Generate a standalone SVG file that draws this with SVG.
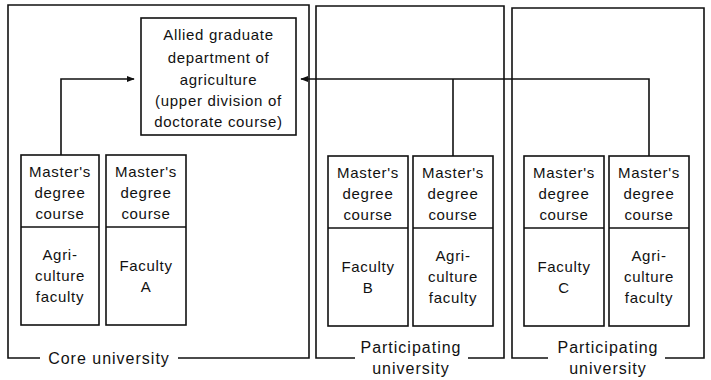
<svg xmlns="http://www.w3.org/2000/svg" width="711" height="380" viewBox="0 0 711 380">
<defs>
<style>
.f{fill:#fff;stroke:#111;stroke-width:1.6}
.l{fill:none;stroke:#111;stroke-width:1.6}
text{font-family:"Liberation Sans",Arial,sans-serif;font-size:15px;fill:#111;text-anchor:middle;letter-spacing:0.7px}
.big{font-size:16px;letter-spacing:1px}
</style>
<marker id="ah" viewBox="0 0 10 10" refX="9" refY="5" markerWidth="8" markerHeight="8" markerUnits="userSpaceOnUse" orient="auto">
<path d="M0,1 L10,5 L0,9 Z" fill="#111"/>
</marker>
</defs>
<rect width="711" height="380" fill="#fff"/>

<g id="core-university">
<path class="l" d="M40,358 H8 V5 H309 V358 H178"/>
<text class="big" x="109" y="364">Core university</text>
</g>
<g id="participating-university-1">
<path class="l" d="M355,358 H316 V6 H504 V358 H468"/>
<text class="big" x="411" y="353">Participating</text>
<text class="big" x="411" y="374">university</text>
</g>
<g id="participating-university-2">
<path class="l" d="M548,358 H512 V8 H704 V358 H665"/>
<text class="big" x="608" y="353">Participating</text>
<text class="big" x="608" y="374">university</text>
</g>

<g id="allied">
<rect class="f" x="141" y="18" width="155" height="117"/>
<text x="218.5" y="40">Allied graduate</text>
<text x="218.5" y="63">department of</text>
<text x="218.5" y="85">agriculture</text>
<text x="218.5" y="106">(upper division of</text>
<text x="218.5" y="127">doctorate course)</text>
</g>

<g id="core-agri">
<rect class="f" x="21" y="155" width="78" height="170"/>
<line class="l" x1="21" y1="227" x2="99" y2="227"/>
<text x="60" y="177">Master's</text>
<text x="60" y="198">degree</text>
<text x="60" y="219">course</text>
<text x="60" y="260">Agri-</text>
<text x="60" y="281">culture</text>
<text x="60" y="302">faculty</text>
</g>
<g id="core-facultyA">
<rect class="f" x="106" y="155" width="80" height="170"/>
<line class="l" x1="106" y1="227" x2="186" y2="227"/>
<text x="146" y="177">Master's</text>
<text x="146" y="198">degree</text>
<text x="146" y="219">course</text>
<text x="146" y="271">Faculty</text>
<text x="146" y="292">A</text>
</g>

<g id="p1-facultyB">
<rect class="f" x="328" y="156" width="80" height="170"/>
<line class="l" x1="328" y1="228" x2="408" y2="228"/>
<text x="368" y="178">Master's</text>
<text x="368" y="199">degree</text>
<text x="368" y="220">course</text>
<text x="368" y="272">Faculty</text>
<text x="368" y="293">B</text>
</g>
<g id="p1-agri">
<rect class="f" x="413" y="156" width="80" height="170"/>
<line class="l" x1="413" y1="228" x2="493" y2="228"/>
<text x="453" y="178">Master's</text>
<text x="453" y="199">degree</text>
<text x="453" y="220">course</text>
<text x="453" y="261">Agri-</text>
<text x="453" y="282">culture</text>
<text x="453" y="303">faculty</text>
</g>

<g id="p2-facultyC">
<rect class="f" x="524" y="156" width="80" height="170"/>
<line class="l" x1="524" y1="228" x2="604" y2="228"/>
<text x="564" y="178">Master's</text>
<text x="564" y="199">degree</text>
<text x="564" y="220">course</text>
<text x="564" y="272">Faculty</text>
<text x="564" y="293">C</text>
</g>
<g id="p2-agri">
<rect class="f" x="609" y="156" width="80" height="170"/>
<line class="l" x1="609" y1="228" x2="689" y2="228"/>
<text x="649" y="178">Master's</text>
<text x="649" y="199">degree</text>
<text x="649" y="220">course</text>
<text x="649" y="261">Agri-</text>
<text x="649" y="282">culture</text>
<text x="649" y="303">faculty</text>
</g>

<g id="connectors">
<path class="l" d="M61,155 V79 H134" marker-end="url(#ah)"/>
<path class="l" d="M649,156 V79 H301" marker-end="url(#ah)"/>
<line class="l" x1="453" y1="79" x2="453" y2="156"/>
</g>
</svg>
